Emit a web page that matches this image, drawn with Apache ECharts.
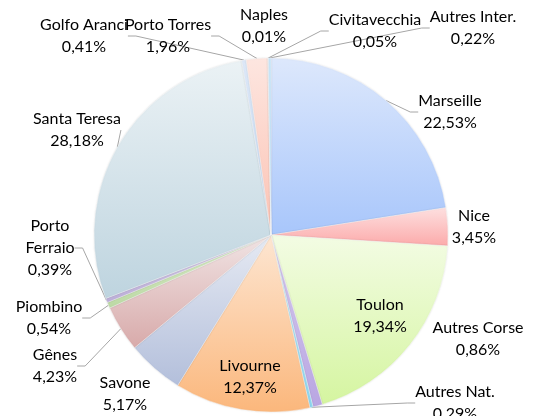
<!DOCTYPE html>
<html>
<head>
<meta charset="utf-8">
<script src="https://cdn.jsdelivr.net/npm/echarts@6/dist/echarts.min.js"></script>
<style>
  html, body { margin: 0; padding: 0; background: #fff; }
  #chart { width: 538px; height: 416px; }
</style>
</head>
<body>
<div id="chart"></div>
<script>
// parts (%) clockwise from 12 o'clock
var ports = ["Marseille", "Nice", "Toulon", "Autres Corse", "Autres Nat.", "Livourne", "Savone", "Gênes",
  "Piombino", "Porto\nFerraio", "Santa Teresa", "Golfo Aranci", "Porto Torres", "Naples", "Civitavecchia", "Autres Inter."];
var parts = [22.53, 3.45, 19.34, 0.86, 0.29, 12.37, 5.17, 4.23, 0.54, 0.39, 28.18, 0.41, 1.96, 0.01, 0.05, 0.22];

// couleurs (haut / bas du dégradé)
var topColors = ["#dde8fc", "#fde0e0", "#f3fce4", "#d6cbef", "#bfeaf8", "#fde6d2", "#e6eaf3", "#f0e4e4",
  "#dcedcc", "#d9d2e9", "#ebf2f5", "#dde8f8", "#fde6e0", "#fbe0c0", "#d8e8f8", "#c8e6fa"];
var bottomColors = ["#a8c6fb", "#fcaaaa", "#d5f5a0", "#b9a6e2", "#8fd8f0", "#fbb77c", "#b3bfdb", "#d8aaaa",
  "#bcd9a4", "#bcaed8", "#bed4df", "#c7dcf5", "#fcc2b3", "#f8c890", "#b8d4f0", "#a8d6f6"];

// label positions (centre of the text block), set by hand as in the original
var labelPos = [[450, 112], [474, 227], [380, 316], [478, 339], [455, 403], [250, 377], [125, 394], [55, 366],
  [49, 318], [50, 248], [77, 130], [84, 36], [168, 36], [264, 26], [375, 31], [473, 28]];
var withLine = [true, false, false, false, true, false, false, true, true, true, true, true, true, false, true, true];

var data = [];
for (var i = 0; i < ports.length; i++) {
  data.push({
    name: ports[i],
    value: parts[i],
    itemStyle: {
      color: new echarts.graphic.LinearGradient(0, 0, 0, 1, [
        { offset: 0, color: topColors[i] },
        { offset: 1, color: bottomColors[i] }
      ])
    },
    labelLine: { show: withLine[i] }
  });
}

var myChart = echarts.init(document.getElementById("chart"));
myChart.setOption({
  animation: false,
  series: [
    {
      type: "pie",
      center: [271, 235],
      radius: 177,
      startAngle: 90,
      clockwise: true,
      avoidLabelOverlap: false,
      data: data,
      itemStyle: {
        borderColor: "rgba(255,255,255,0.7)",
        borderWidth: 0.5,
        shadowBlur: 2,
        shadowColor: "rgba(0,0,0,0.12)"
      },
      label: {
        show: true,
        fontFamily: "Lato",
        fontSize: 16,
        lineHeight: 22,
        color: "#000",
        formatter: function (p) {
          return p.name + "\n" + p.value.toFixed(2).replace(".", ",") + "%";
        }
      },
      labelLine: {
        show: true,
        length: 10,
        length2: 8,
        lineStyle: { color: "#a6a6a6", width: 1, shadowBlur: 0 }
      },
      labelLayout: function (params) {
        var p = labelPos[params.dataIndex];
        return { x: p[0], y: p[1], align: "center", verticalAlign: "middle" };
      }
    }
  ]
});
</script>
</body>
</html>
